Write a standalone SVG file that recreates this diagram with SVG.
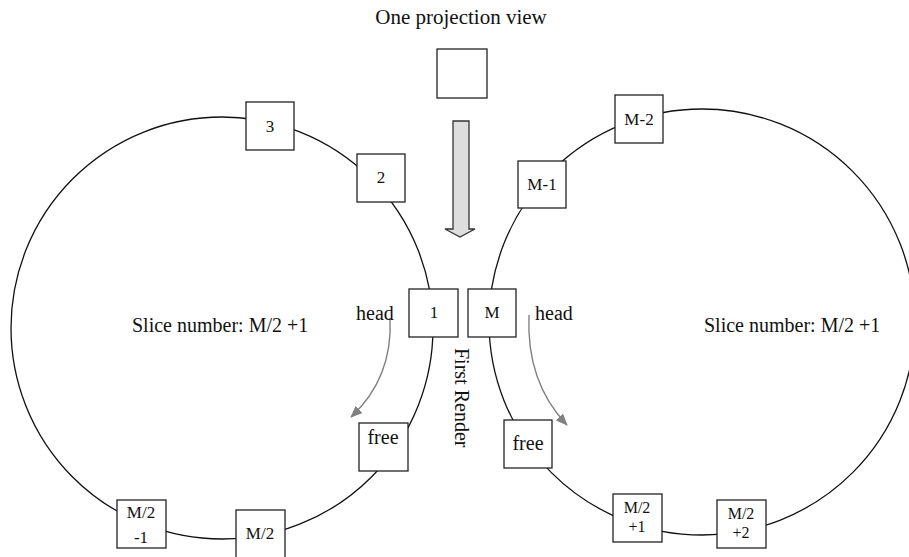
<svg xmlns="http://www.w3.org/2000/svg" width="909" height="557" viewBox="0 0 909 557">
  <style>
    text { font-family: "Liberation Serif", "Times New Roman", serif; fill: #111; }
    .box { fill: #fff; stroke: #222; stroke-width: 1.3; }
    .ring { fill: none; stroke: #111; stroke-width: 1.3; }
    .lbl { font-size: 17px; text-anchor: middle; }
    .two { font-size: 16px; }
    .big { font-size: 20px; }
    .flow { fill: none; stroke: #808080; stroke-width: 1.4; }
  </style>
  <defs>
    <marker id="grayHead" viewBox="0 0 12 10" refX="11" refY="5" markerWidth="12" markerHeight="10" markerUnits="userSpaceOnUse" orient="auto">
      <path d="M0,0 L12,5 L0,10 Z" fill="#808080"/>
    </marker>
  </defs>

  <rect width="909" height="557" fill="#fff"/>

  <!-- ring buffers and head-advance arrows -->
  <g id="connectors">
    <circle class="ring" cx="222" cy="328" r="211"/>
    <circle class="ring" cx="702" cy="322" r="213"/>
    <path class="flow" d="M390,318 Q393,378 351,417" marker-end="url(#grayHead)"/>
    <path class="flow" d="M529,315 Q526,382 567,425" marker-end="url(#grayHead)"/>
  </g>

  <!-- projection view and its push arrow -->
  <g id="projection">
    <text x="461" y="24" font-size="21" text-anchor="middle">One projection view</text>
    <rect class="box" x="437" y="49" width="50" height="49"/>
    <polygon points="453,121 469,121 469,229 475,229 460,237 445,229 453,229" fill="#dedede" stroke="#333" stroke-width="1.3"/>
  </g>

  <!-- left ring -->
  <g id="slice-3"><rect class="box" x="246" y="102" width="48" height="48"/><text class="lbl" x="270" y="132">3</text></g>
  <g id="slice-2"><rect class="box" x="357" y="154" width="48" height="48"/><text class="lbl" x="381" y="183">2</text></g>
  <g id="slice-1"><rect class="box" x="409" y="289" width="49" height="48"/><text class="lbl" x="434" y="318">1</text></g>
  <g id="free-left"><rect class="box" x="359" y="423" width="49" height="48"/><text class="lbl big" x="383" y="444">free</text></g>
  <g id="slice-half-minus-1"><rect class="box" x="117" y="500" width="49" height="48"/><text class="lbl" x="141" y="518" font-size="19">M/2</text><text class="lbl" x="141" y="543" font-size="19">-1</text></g>
  <g id="slice-half"><rect class="box" x="236" y="510" width="49" height="50"/><text class="lbl" x="260" y="539">M/2</text></g>

  <!-- right ring -->
  <g id="slice-m-2"><rect class="box" x="615" y="95" width="48" height="48"/><text class="lbl" x="639" y="125">M-2</text></g>
  <g id="slice-m-1"><rect class="box" x="518" y="161" width="48" height="47"/><text class="lbl" x="542" y="190">M-1</text></g>
  <g id="slice-m"><rect class="box" x="468" y="289" width="48" height="48"/><text class="lbl" x="492" y="318">M</text></g>
  <g id="free-right"><rect class="box" x="504" y="420" width="48" height="48"/><text class="lbl big" x="528" y="450">free</text></g>
  <g id="slice-half-plus-1"><rect class="box" x="613" y="494" width="49" height="48"/><text class="lbl two" x="637" y="513">M/2</text><text class="lbl two" x="637" y="532">+1</text></g>
  <g id="slice-half-plus-2"><rect class="box" x="717" y="500" width="49" height="48"/><text class="lbl two" x="741" y="519">M/2</text><text class="lbl two" x="741" y="538">+2</text></g>

  <!-- annotations -->
  <g id="labels">
    <text class="big" x="356" y="320">head</text>
    <text class="big" x="535" y="320">head</text>
    <text class="big" x="132" y="332">Slice number: M/2 +1</text>
    <text class="big" x="704" y="332">Slice number: M/2 +1</text>
    <text class="big" transform="translate(455,348) rotate(90)">First Render</text>
  </g>
</svg>
